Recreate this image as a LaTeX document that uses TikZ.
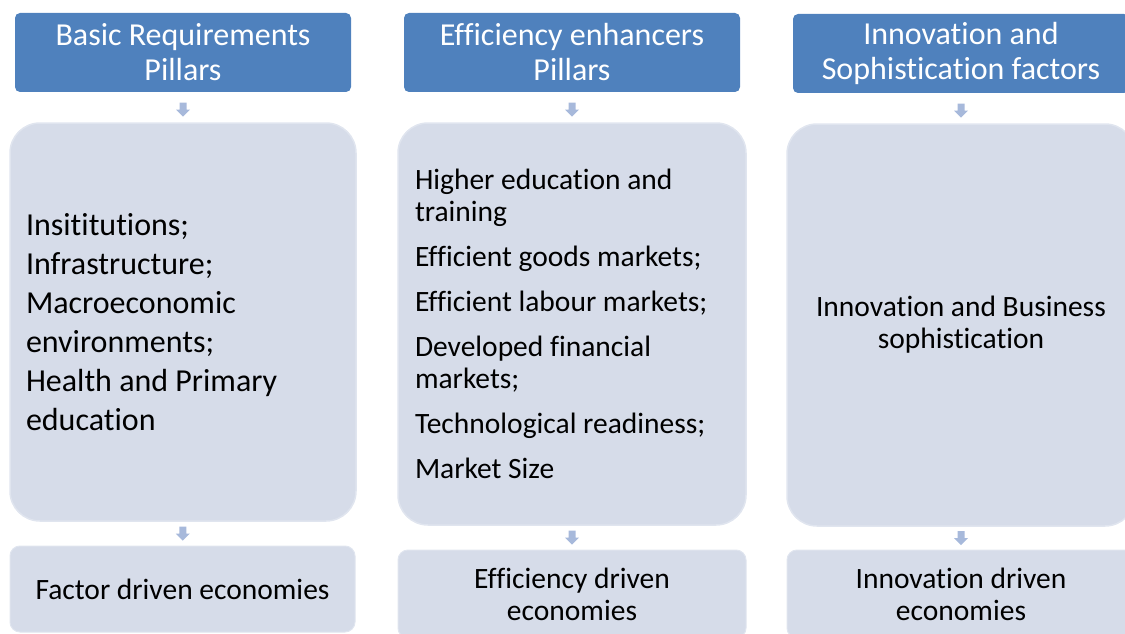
\documentclass[tikz,border=0pt]{standalone}
\usepackage{fontspec}
\setmainfont{Carlito}[Ligatures=NoCommon]
\usetikzlibrary{calc}

\definecolor{headblue}{RGB}{79,129,189}
\definecolor{boxfill}{RGB}{214,220,233}
\definecolor{boxedge}{RGB}{224,229,239}
\definecolor{arrowfill}{RGB}{167,185,219}

\tikzset{
  headbox/.style={rectangle, fill=headblue, rounded corners=5pt, text=white,
    align=center, inner sep=0pt, font=\fontsize{32}{35}\selectfont},
  midbox/.style={rectangle, fill=boxfill, draw=boxedge, line width=1.5pt,
    rounded corners=30pt, inner sep=0pt, text=black},
  endbox/.style={rectangle, fill=boxfill, draw=boxedge, line width=1pt,
    rounded corners=10pt, inner sep=0pt, text=black, align=center,
    font=\fontsize{29.5}{32}\selectfont},
  downarrow/.pic={
    \fill[arrowfill] (-3.5,-7) -- (3.5,-7) -- (3.5,0) -- (7,0) -- (0,7)
      -- (-7,0) -- (-3.5,0) -- cycle;
  }
}

\begin{document}
\begin{tikzpicture}[x=1pt, y=-1pt]
  \useasboundingbox (0,0) rectangle (1125,634);
  \clip (0,0) rectangle (1125,634);

  % column headers
  \node[headbox, minimum width=336, minimum height=79] (h1) at (183,52.5)
    {Basic Requirements\\Pillars};
  \node[headbox, minimum width=336, minimum height=79] (h2) at (572,52.5)
    {Efficiency enhancers\\Pillars};
  \node[headbox, minimum width=336, minimum height=79] (h3) at (961,53.5)
    {Innovation and\\Sophistication factors};

  % pillar contents
  \node[midbox, minimum width=346, minimum height=398, text width=314,
        align=flush left, font=\fontsize{32}{39}\selectfont] (m1) at (183,322)
    {Insititutions;\\Infrastructure;\\Macroeconomic\\environments;\\Health and Primary\\education};
  \node[midbox, minimum width=348, minimum height=402, text width=314,
        align=flush left, font=\fontsize{29.5}{32}\selectfont] (m2) at (572,324)
    {Higher education and\\training\\[13pt]Efficient goods markets;\\[13pt]Efficient labour markets;\\[13pt]Developed financial\\markets;\\[13pt]Technological readiness;\\[13pt]Market Size};
  \node[midbox, minimum width=348, minimum height=402, align=center,
        font=\fontsize{29.5}{32}\selectfont] (m3) at (961,325)
    {Innovation and Business\\sophistication};

  % resulting economy types
  \node[endbox, minimum width=345, minimum height=86] (b1) at (182.5,589)
    {Factor driven economies};
  \node[endbox, minimum width=348, minimum height=88] (b2) at (572,594)
    {Efficiency driven\\economies};
  \node[endbox, minimum width=348, minimum height=88] (b3) at (961,594)
    {Innovation driven\\economies};

  % block arrows between the stages
  \foreach \a/\b in {h1/m1, h2/m2, h3/m3}
    \pic at ($(\a.south)!0.5!(\b.north)+(0,2.5)$) {downarrow};
  \foreach \a/\b in {m1/b1, m2/b2, m3/b3}
    \pic at ($(\a.south)!0.5!(\b.north)$) {downarrow};
\end{tikzpicture}
\end{document}
